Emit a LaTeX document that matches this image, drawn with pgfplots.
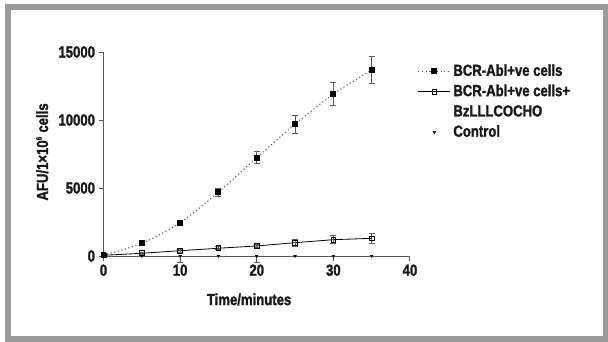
\documentclass[border=0pt]{standalone}
\usepackage{pgfplots}
\pgfplotsset{compat=1.18}
\usepackage{fontspec}
\setmainfont[FakeStretch=0.82, BoldFeatures={FakeBold=1.6}]{Liberation Sans}
\definecolor{framegray}{RGB}{155,155,155}
\definecolor{axgray}{RGB}{90,90,90}
\definecolor{txt}{RGB}{25,25,25}
\begin{document}
\begin{tikzpicture}[x=1pt,y=1pt]
\useasboundingbox (0,0) rectangle (608,341);
\fill[white] (0,0) rectangle (608,341);
\draw[line width=6pt, framegray] (8,2.5) rectangle (605.5,334);
\begin{axis}[
  at={(103.5pt,85pt)}, anchor=south west,
  scale only axis, width=306.5pt, height=204pt,
  xmin=0, xmax=40, ymin=0, ymax=15000,
  axis lines*=left,
  axis line style={axgray, line width=1pt},
  clip=false,
  xtick={0,10,20,30,40}, ytick={0,5000,10000,15000},
  scaled y ticks=false,
  /pgf/number format/1000 sep={},
  /pgf/number format/assume math mode=true,
  tick align=outside, major tick length=5pt,
  tick style={axgray, line width=1pt},
  tick label style={font=\bfseries\fontsize{16}{19}\selectfont, text=txt},
  label style={font=\bfseries\fontsize{16}{19}\selectfont, text=txt},
  xlabel={Time/minutes},
  ylabel={AFU/1×10\textsuperscript{\fontsize{8}{8}\selectfont 6} cells},
  xlabel style={at={(axis description cs:0.475,-0.213)}, anchor=center},
  ylabel style={at={(axis description cs:-0.20,0.51)}, anchor=center},
  legend image code/.code={\draw[mark repeat=2,mark phase=2,#1] plot coordinates {(0pt,0pt)(16pt,0pt)(32pt,0pt)};},
  legend cell align=left,
  legend style={draw=none, fill=none, at={(1.015,0.965)}, anchor=north west,
    font=\bfseries\fontsize{16}{19}\selectfont, text=txt,
    nodes={inner sep=2.5pt, text height=12pt, text depth=3pt},
    row sep=0.3pt},
  error bars/error bar style={axgray, line width=0.9pt, solid},
  error bars/error mark options={axgray, line width=0.9pt, mark size=3pt, rotate=90, solid},
]
% BCR-Abl+ve cells
\addplot[color=axgray, line width=1.1pt, dash pattern=on 1.1pt off 2.6pt, smooth,
  mark=square*, mark size=2.4pt, mark options={solid, fill=black, draw=black},
  error bars/.cd, y dir=both, y explicit]
  table[y error=e] {
x y e
0 60 0
5 930 0
10 2450 100
15 4690 310
20 7230 450
25 9690 680
30 11900 860
35 13680 1000
};
\addlegendentry{BCR-Abl+ve cells}
% with inhibitor
\addplot[color=black, line width=0.8pt,
  mark=square, mark size=2.4pt, mark options={solid, fill=white, draw=black},
  error bars/.cd, y dir=both, y explicit]
  table[y error=e] {
x y e
0 50 0
5 200 60
10 390 120
15 570 100
20 740 80
25 980 250
30 1200 280
35 1300 370
};
\addlegendentry{BCR-Abl+ve cells+}
\addlegendimage{empty legend}
\addlegendentry{BzLLLCOCHO}
% control
\addplot[only marks, mark=triangle*, mark size=1.6pt, mark options={rotate=180, fill=black, draw=black},
  error bars/.cd, y dir=both, y explicit]
  table[y error plus=ep, y error minus=em] {
x y ep em
0 0 0 0
5 0 0 0
10 0 0 480
15 0 0 0
20 0 0 480
25 0 0 0
30 0 0 0
35 0 0 0
};
\addlegendentry{Control}
\end{axis}
\end{tikzpicture}
\end{document}
